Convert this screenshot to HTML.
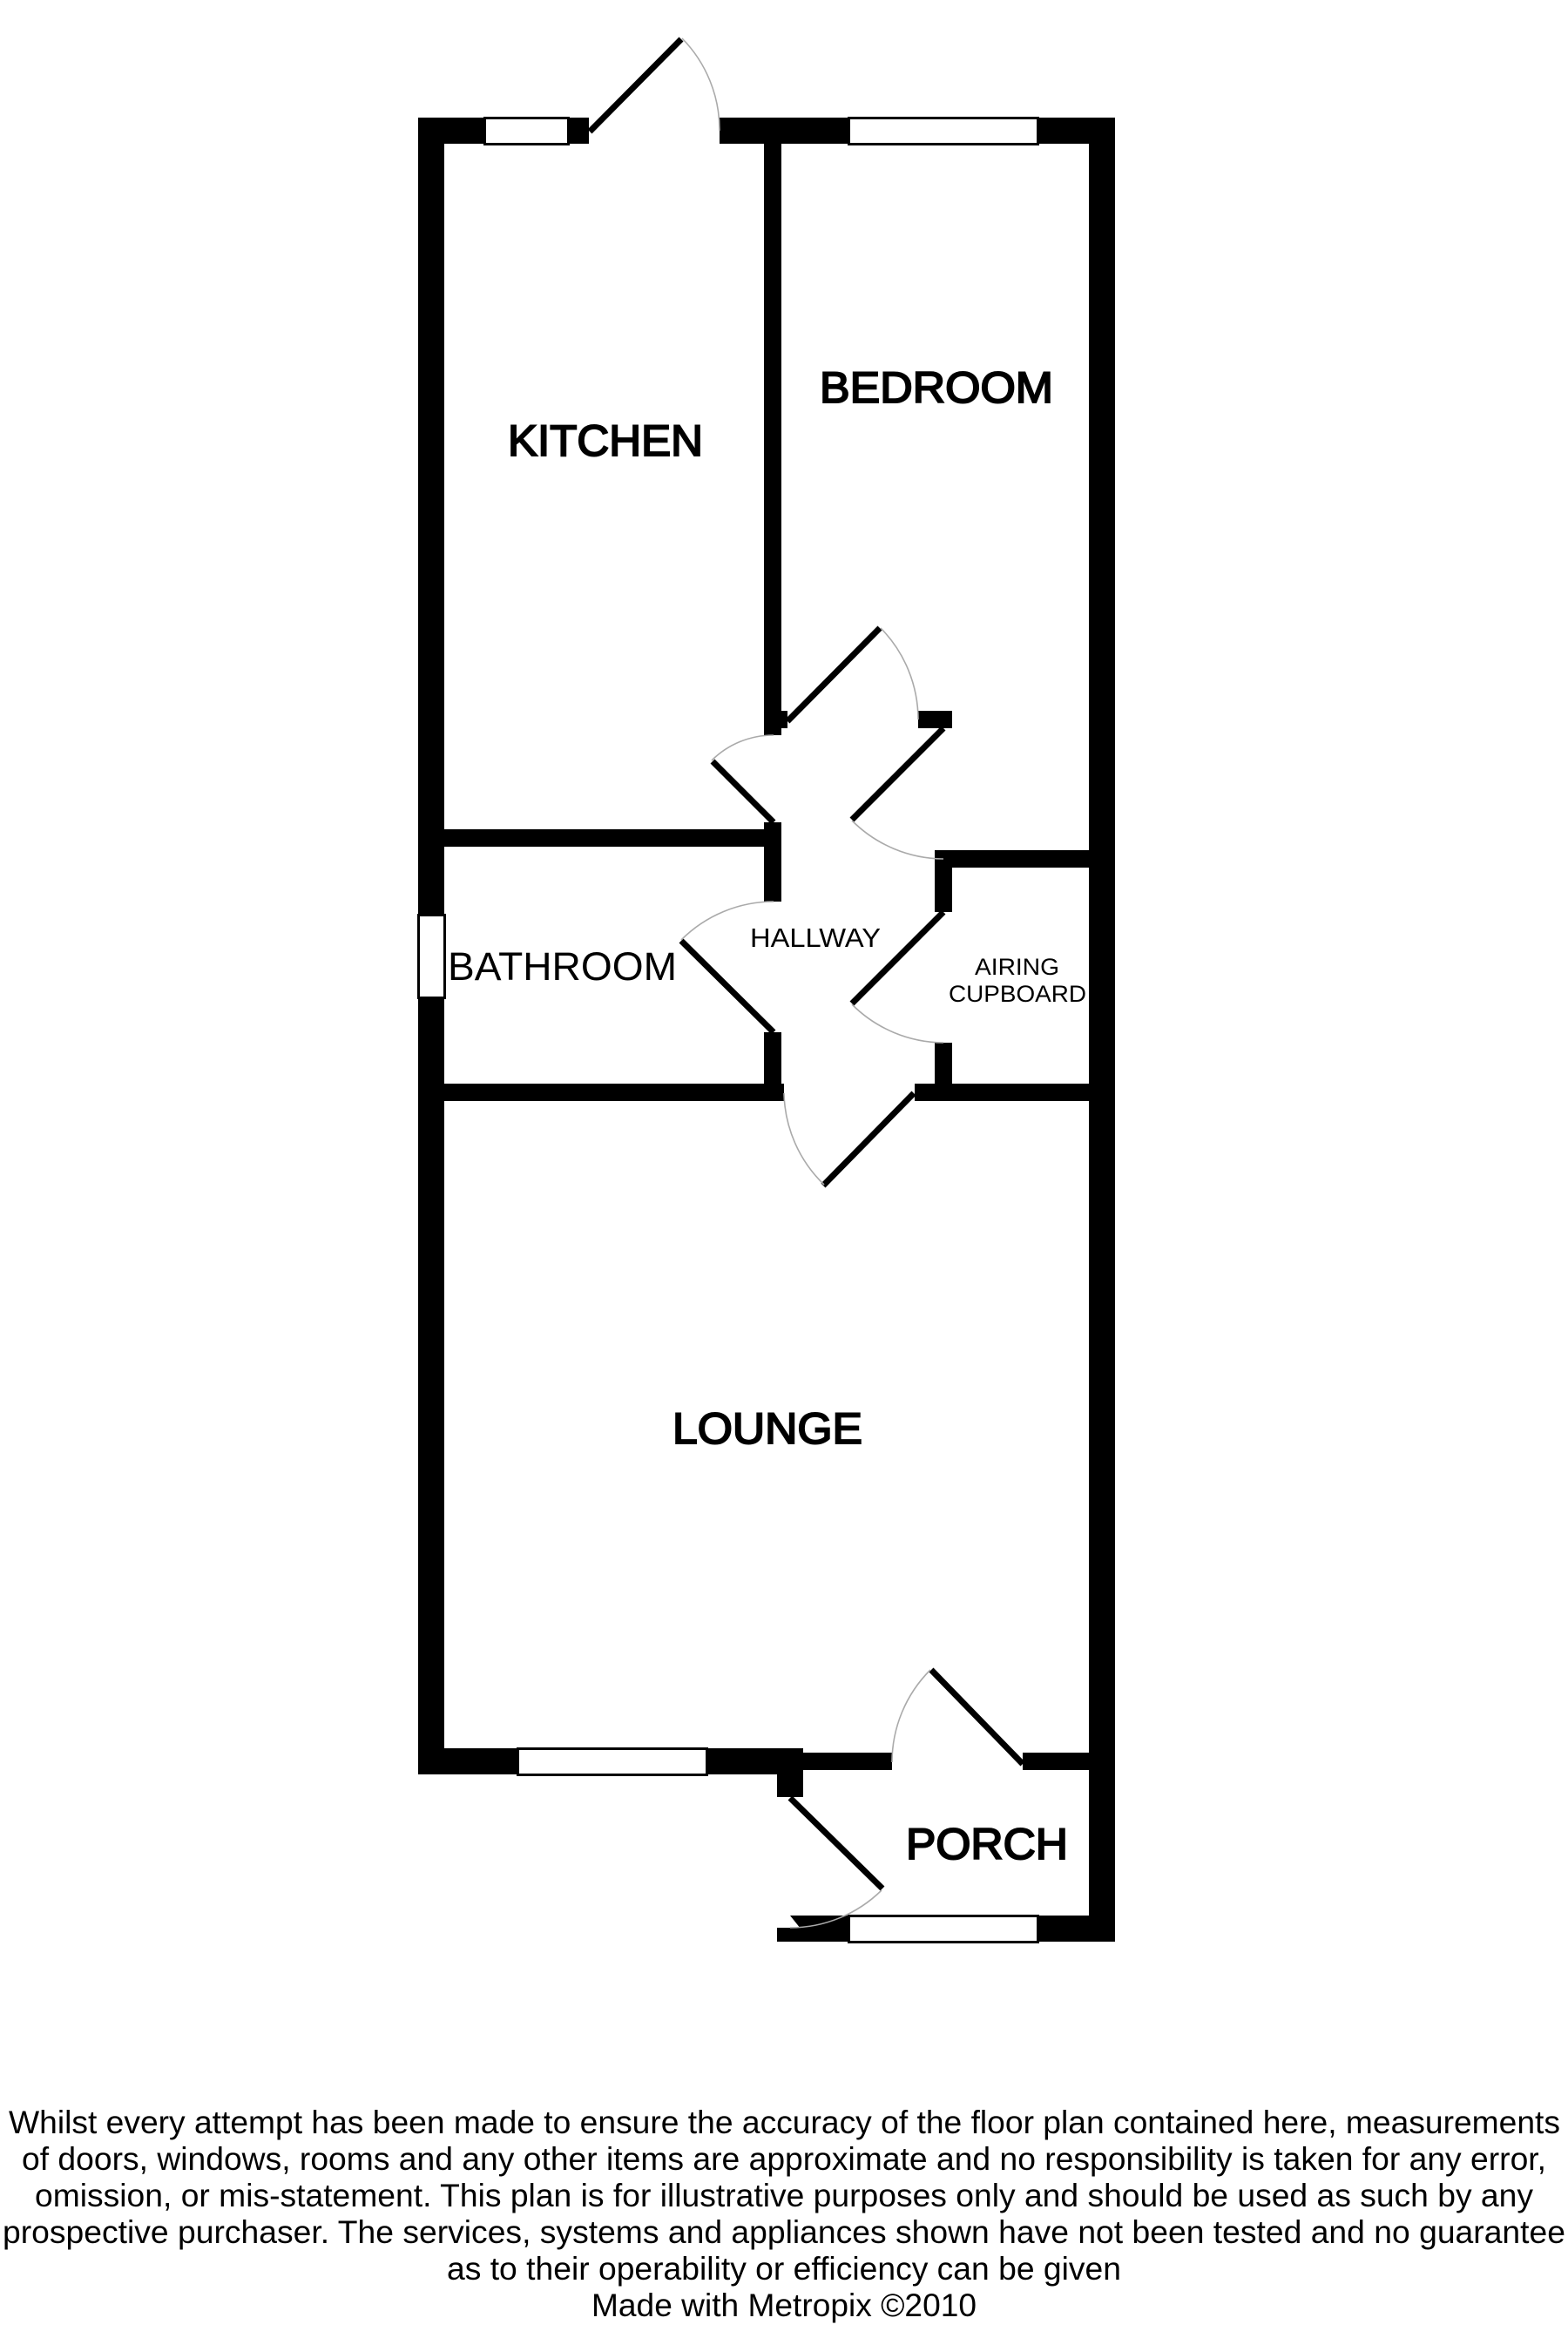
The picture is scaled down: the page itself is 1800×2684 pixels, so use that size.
<!DOCTYPE html>
<html><head><meta charset="utf-8"><style>
html,body{margin:0;padding:0;background:#fff}
svg{display:block}
text{font-family:"Liberation Sans",Arial,sans-serif;fill:#000}
.big{font-size:50px;stroke:#000;stroke-width:2px}
</style></head><body>
<svg width="1800" height="2684" viewBox="0 0 1800 2684" xmlns="http://www.w3.org/2000/svg">
<rect width="1800" height="2684" fill="#fff"/>
<g fill="#000" shape-rendering="crispEdges">
<rect x="480" y="135" width="30" height="1902"/>
<rect x="1250" y="135" width="30" height="2094"/>
<rect x="480" y="135" width="196" height="30"/>
<rect x="826" y="135" width="454" height="30"/>
<rect x="877" y="135" width="20" height="709"/>
<rect x="897" y="816" width="7" height="20"/>
<rect x="1054" y="816" width="39" height="20"/>
<rect x="510" y="952" width="387" height="20"/>
<rect x="877" y="944" width="20" height="91"/>
<rect x="877" y="1185" width="20" height="61"/>
<rect x="510" y="1244" width="390" height="20"/>
<rect x="1073" y="976" width="177" height="20"/>
<rect x="1073" y="976" width="20" height="71"/>
<rect x="1073" y="1197" width="20" height="49"/>
<rect x="1050" y="1244" width="200" height="20"/>
<rect x="480" y="2007" width="442" height="30"/>
<rect x="922" y="2012" width="102" height="20"/>
<rect x="1174" y="2012" width="76" height="20"/>
<rect x="892" y="2037" width="30" height="26"/>
<rect x="892" y="2213" width="82" height="16"/>
<rect x="1192" y="2199" width="88" height="30"/>
</g>
<polygon points="907,2199 974,2199 974,2214 919,2214" fill="#000"/>
<g fill="#fff" stroke="#000" stroke-width="3">
<rect x="556.500" y="135.500" width="96" height="30"/>
<rect x="974.500" y="135.500" width="217" height="30"/>
<rect x="594.500" y="2007.500" width="217" height="30"/>
<rect x="974.500" y="2199.500" width="217" height="30"/>
<rect x="480.500" y="1050.500" width="30" height="95"/>
</g>
<g stroke="#000" stroke-width="7" fill="none">
<line x1="677" y1="151" x2="782" y2="45"/>
<line x1="904" y1="828" x2="1010" y2="721"/>
<line x1="1083" y1="836" x2="978" y2="941"/>
<line x1="888" y1="944" x2="818" y2="874"/>
<line x1="888" y1="1185" x2="782" y2="1080"/>
<line x1="1083" y1="1047" x2="978" y2="1152"/>
<line x1="1049" y1="1255" x2="945" y2="1361"/>
<line x1="1174" y1="2025" x2="1069" y2="1917"/>
<line x1="907" y1="2064" x2="1013" y2="2168"/>
</g>
<g stroke="#aaa" stroke-width="1.6" fill="none">
<path d="M783 44 A150 150 0 0 1 826 150"/>
<path d="M1011 721 A150 150 0 0 1 1054 826"/>
<path d="M978 942 A150 150 0 0 0 1083 986"/>
<path d="M817 873 A100 100 0 0 1 888 844"/>
<path d="M782 1079 A150 150 0 0 1 888 1035"/>
<path d="M1083 1197 A150 150 0 0 1 978 1153"/>
<path d="M900 1255 A150 150 0 0 0 946 1360"/>
<path d="M1024 2023 A150 150 0 0 1 1068 1917"/>
<path d="M1012 2170 A150 150 0 0 1 907 2213"/>
</g>
<text class="big" x="583" y="523" textLength="224" lengthAdjust="spacingAndGlyphs">KITCHEN</text>
<text class="big" x="941" y="462" textLength="268" lengthAdjust="spacingAndGlyphs">BEDROOM</text>
<text class="big" x="772" y="1657" textLength="218" lengthAdjust="spacingAndGlyphs">LOUNGE</text>
<text class="big" x="1040" y="2134" textLength="186" lengthAdjust="spacingAndGlyphs">PORCH</text>
<text x="514" y="1125" font-size="45" textLength="263" lengthAdjust="spacingAndGlyphs">BATHROOM</text>
<text x="861" y="1087" font-size="31" textLength="150" lengthAdjust="spacingAndGlyphs">HALLWAY</text>
<text x="1119" y="1119" font-size="27" textLength="97" lengthAdjust="spacingAndGlyphs">AIRING</text>
<text x="1089" y="1150" font-size="27" textLength="158" lengthAdjust="spacingAndGlyphs">CUPBOARD</text>
<g font-size="37">
<text x="10" y="2449" textLength="1781" lengthAdjust="spacingAndGlyphs">Whilst every attempt has been made to ensure the accuracy of the floor plan contained here, measurements</text>
<text x="25" y="2491" textLength="1750" lengthAdjust="spacingAndGlyphs">of doors, windows, rooms and any other items are approximate and no responsibility is taken for any error,</text>
<text x="40" y="2533" textLength="1720" lengthAdjust="spacingAndGlyphs">omission, or mis-statement. This plan is for illustrative purposes only and should be used as such by any</text>
<text x="3" y="2575" textLength="1794" lengthAdjust="spacingAndGlyphs">prospective purchaser. The services, systems and appliances shown have not been tested and no guarantee</text>
<text x="513" y="2617" textLength="774" lengthAdjust="spacingAndGlyphs">as to their operability or efficiency can be given</text>
<text x="679" y="2659" textLength="442" lengthAdjust="spacingAndGlyphs">Made with Metropix ©2010</text>
</g>
</svg>
</body></html>
